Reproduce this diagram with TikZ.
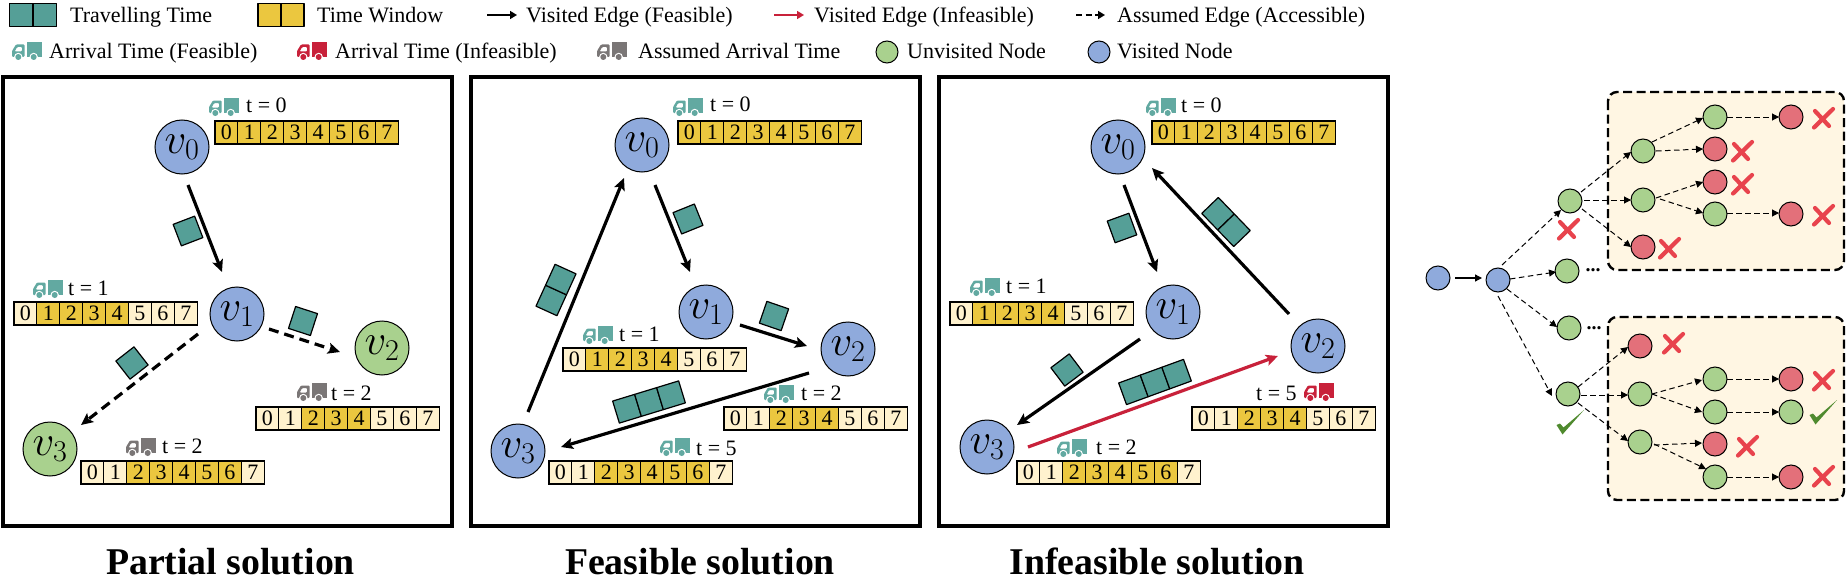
\documentclass[tikz,border=0pt]{standalone}
\usepackage{fix-cm}
\usepackage{fontspec}
\setmainfont{Liberation Serif}
\usetikzlibrary{arrows.meta}
\definecolor{tealblk}{HTML}{559F97}
\definecolor{tealtrk}{HTML}{62A9A1}
\definecolor{yellowc}{HTML}{EBC73F}
\definecolor{lightc}{HTML}{FFF2CE}
\definecolor{bluen}{HTML}{8FAADC}
\definecolor{greenn}{HTML}{A9D18E}
\definecolor{redn}{HTML}{E3707A}
\definecolor{rede}{HTML}{C8213A}
\definecolor{grayt}{HTML}{7A7676}
\definecolor{crossc}{HTML}{E8434D}
\definecolor{checkc}{HTML}{4F8A2E}
\definecolor{boxc}{HTML}{FFF6E3}
\tikzset{
  lbl/.style={anchor=base west,inner sep=0pt,font=\fontsize{22}{24}\selectfont},
  captext/.style={anchor=base,inner sep=0pt,font=\fontsize{37.8}{42}\selectfont\bfseries},
  panelbox/.style={draw=black,line width=3.6pt,fill=white},
  bignode/.style={circle,draw=black,line width=1pt,minimum size=54pt,inner sep=0pt,font=\fontsize{43}{43}\selectfont},
  visitb/.style={bignode,fill=bluen},
  unvisb/.style={bignode,fill=greenn},
  legn/.style={circle,draw=black,line width=1pt,minimum size=22pt,inner sep=0pt},
  tn/.style={circle,draw=black,line width=1pt,minimum size=24pt,inner sep=0pt},
  tg/.style={tn,fill=greenn},
  tb/.style={tn,fill=bluen},
  tr/.style={tn,fill=redn},
  solid edge/.style={draw=black,line width=3.2pt,-{Stealth[length=12pt,width=11pt,inset=2.5pt]}},
  red edge/.style={draw=rede,line width=3.2pt,-{Stealth[length=12pt,width=11pt,inset=2.5pt]}},
  dash edge/.style={draw=black,line width=3.2pt,dash pattern=on 10pt off 6pt,-{Stealth[length=12pt,width=11pt,inset=2.5pt]}},
  tree edge/.style={draw=black,line width=1pt,dash pattern=on 5.5pt off 3.5pt,-{Triangle[length=7pt,width=7pt]}},
  tree solid/.style={draw=black,line width=1.2pt,-{Triangle[length=7pt,width=7pt]}},
  leg solid/.style={draw=black,line width=1.6pt,-{Triangle[length=7pt,width=8pt]}},
  leg red/.style={draw=rede,line width=1.6pt,-{Triangle[length=7pt,width=8pt]}},
  leg dash/.style={draw=black,line width=1.6pt,dash pattern=on 6pt off 3.5pt,-{Triangle[length=7pt,width=8pt]}},
  dbox/.style={draw=black,line width=2.4pt,dash pattern=on 9pt off 4.5pt,fill=boxc,rounded corners=9pt},
  cellnode/.style={draw=black,line width=1.1pt,minimum width=22.9pt,minimum height=23pt,inner sep=0pt,font=\fontsize{22}{24}\selectfont},
  crossmark/.style={draw=crossc,line width=4.2pt,line cap=round},
  dotstext/.style={inner sep=0pt,font=\fontsize{20}{20}\selectfont\bfseries}
}
% strip: name, x, y (top-left), first and last highlighted cell
\newcommand{\tstrip}[5]{%
  \foreach \i in {0,...,7}{%
    \pgfmathtruncatemacro{\hiflag}{(\i>=#4)&&(\i<=#5)?1:0}%
    \ifnum\hiflag=1\def\cellcol{yellowc}\else\def\cellcol{lightc}\fi
    \node[cellnode,fill=\cellcol] (#1-\i) at ({#2+\i*22.9+11.45},{#3+11.5}) {\i};
  }%
}
% truck: x, y (top-left), colour
\newcommand{\truck}[3]{%
  \begin{scope}[shift={(#1,#2)}]
    \fill[#3] (15,0) rectangle (30,15);
    \fill[#3,even odd rule,rounded corners=1pt] (0,15) -- (0,9) -- (4,2.5) -- (12.5,2.5) -- (12.5,15) -- cycle
       (2.6,9.5) -- (5.2,5) -- (10,5) -- (10,9.5) -- cycle;
    \fill[white] (6.3,15) circle (4.2) (21.7,15) circle (4.2);
    \fill[#3] (6.3,15) circle (3) (21.7,15) circle (3);
  \end{scope}%
}
% teal/yellow block: centre x, y, cells, angle, fill, cell size
\newcommand{\tblock}[6]{%
  \begin{scope}[shift={(#1,#2)},rotate=#4]
    \foreach \k in {1,...,#3}{%
      \draw[fill=#5,line width=1.2pt,line join=round] ({(\k-1-#3/2)*#6},{-#6/2}) rectangle ({(\k-#3/2)*#6},{#6/2});
    }
  \end{scope}%
}
\newcommand{\redx}[2]{%
  \begin{scope}[shift={(#1,#2)}]
    \draw[crossmark] (-9,9.5) -- (10,-9);
    \draw[crossmark] (-8,-7) -- (6,8);
  \end{scope}%
}
\newcommand{\grncheck}[2]{%
  \begin{scope}[shift={(#1,#2)}]
    \fill[checkc] (-13.5,3) -- (-10,1.5) -- (-6.5,5.5) -- (14,-12) -- (-7.5,12.5) -- cycle;
  \end{scope}%
}
\begin{document}
\begin{tikzpicture}[x=1pt,y=-1pt]
\useasboundingbox (0,0) rectangle (1848,578);
% legend
\tblock{33}{15}{2}{0}{tealblk}{23.5}
\node[lbl] (l1) at (70,23) {Travelling Time};
\tblock{281}{15}{2}{0}{yellowc}{23}
\node[lbl] (l2) at (317,23) {Time Window};
\coordinate (la1) at (487,15); \coordinate (la2) at (517,15);
\draw[leg solid] (la1) -- (la2);
\node[lbl] (l3) at (526,23) {Visited Edge (Feasible)};
\coordinate (lb1) at (774,15); \coordinate (lb2) at (804,15);
\draw[leg red] (lb1) -- (lb2);
\node[lbl] (l4) at (814,23) {Visited Edge (Infeasible)};
\coordinate (lc1) at (1076,15); \coordinate (lc2) at (1105,15);
\draw[leg dash] (lc1) -- (lc2);
\node[lbl] (l5) at (1117,23) {Assumed Edge (Accessible)};
\truck{12}{42}{tealtrk}
\node[lbl] (l6) at (49,59) {Arrival Time (Feasible)};
\truck{297}{42}{rede}
\node[lbl] (l7) at (335,59) {Arrival Time (Infeasible)};
\truck{597}{42}{grayt}
\node[lbl] (l8) at (638,59) {Assumed Arrival Time};
\node[legn,fill=greenn] (l9) at (887,52) {};
\node[lbl] (l10) at (907,59) {Unvisited Node};
\node[legn,fill=bluen] (l11) at (1099,52) {};
\node[lbl] (l12) at (1117,59) {Visited Node};
% panels
\draw[panelbox] (3,77) rectangle (452,526);
\draw[panelbox] (471,77) rectangle (920,526);
\draw[panelbox] (939,77) rectangle (1388,526);
\node[captext] (cap1) at (230.5,574) {Partial solution};
\node[captext] (cap2) at (700,574) {Feasible solution};
\node[captext] (cap3) at (1157,574) {Infeasible solution};
% panel 1
\node[visitb] (a0) at (182,147) {$v_0$};
\node[visitb] (a1) at (237,314) {$v_1$};
\node[unvisb] (a2) at (382,348) {$v_2$};
\node[unvisb] (a3) at (50,449) {$v_3$};
\draw[solid edge] ([shift={(6,38)}]a0.center) -- ([shift={(-15,-42)}]a1.center);
\draw[dash edge] ([shift={(32,15)}]a1.center) -- ([shift={(-42,4)}]a2.center);
\draw[dash edge] ([shift={(-39,20)}]a1.center) -- ([shift={(31,-24)}]a3.center);
\tblock{188}{231}{1}{21}{tealblk}{23}
\tblock{303}{321}{1}{-18}{tealblk}{23}
\tblock{132}{363}{1}{38}{tealblk}{23}
\tstrip{as0}{215}{121}{0}{7}
\tstrip{as1}{14}{302}{1}{4}
\tstrip{as2}{256}{407}{2}{4}
\tstrip{as3}{81}{461}{2}{6}
\truck{209}{98}{tealtrk}
\node[lbl] (at0) at (246,113) {t = 0};
\truck{33}{280}{tealtrk}
\node[lbl] (at1) at (68,295) {t = 1};
\truck{297}{383}{grayt}
\node[lbl] (at2) at (331,400) {t = 2};
\truck{126}{438}{grayt}
\node[lbl] (at3) at (162,453) {t = 2};
% panel 2
\node[visitb] (b0) at (642,145) {$v_0$};
\node[visitb] (b1) at (706,312) {$v_1$};
\node[visitb] (b2) at (848,349) {$v_2$};
\node[visitb] (b3) at (518,451) {$v_3$};
\draw[solid edge] ([shift={(13,40)}]b0.center) -- ([shift={(-16,-40)}]b1.center);
\draw[solid edge] ([shift={(34,13)}]b1.center) -- ([shift={(-41,-3)}]b2.center);
\draw[solid edge] ([shift={(-39,24)}]b2.center) -- ([shift={(43,-4)}]b3.center);
\draw[solid edge] ([shift={(10,-39)}]b3.center) -- ([shift={(-18,33)}]b0.center);
\tblock{688}{219}{1}{22}{tealblk}{23}
\tblock{774}{316}{1}{-19}{tealblk}{23}
\tblock{556}{290}{2}{65.5}{tealblk}{23}
\tblock{649}{402}{3}{17}{tealblk}{23}
\tstrip{bs0}{678}{121}{0}{7}
\tstrip{bs1}{563}{348}{1}{4}
\tstrip{bs2}{724}{407}{2}{4}
\tstrip{bs3}{549}{461}{2}{6}
\truck{673}{98}{tealtrk}
\node[lbl] (bt0) at (710,111) {t = 0};
\truck{583}{326}{tealtrk}
\node[lbl] (bt1) at (619,341) {t = 1};
\truck{764}{385}{tealtrk}
\node[lbl] (bt2) at (801,400) {t = 2};
\truck{660}{438}{tealtrk}
\node[lbl] (bt3) at (696,455) {t = 5};
% panel 3
\node[visitb] (c0) at (1118,147) {$v_0$};
\node[visitb] (c1) at (1173,312) {$v_1$};
\node[visitb] (c2) at (1318,346) {$v_2$};
\node[visitb] (c3) at (987,447) {$v_3$};
\draw[solid edge] ([shift={(6,38)}]c0.center) -- ([shift={(-16,-40)}]c1.center);
\draw[solid edge] ([shift={(-33,27)}]c1.center) -- ([shift={(30,-22)}]c3.center);
\draw[red edge] ([shift={(41,0)}]c3.center) -- ([shift={(-40,10)}]c2.center);
\draw[solid edge] ([shift={(-29,-32)}]c2.center) -- ([shift={(34,21)}]c0.center);
\tblock{1122}{228}{1}{20}{tealblk}{23}
\tblock{1067}{370}{1}{37}{tealblk}{23}
\tblock{1155}{382}{3}{20}{tealblk}{23}
\tblock{1226}{222}{2}{-46}{tealblk}{23}
\tstrip{cs0}{1152}{121}{0}{7}
\tstrip{cs1}{950}{302}{1}{4}
\tstrip{cs2}{1192}{407}{2}{4}
\tstrip{cs3}{1017}{461}{2}{6}
\truck{1146}{98}{tealtrk}
\node[lbl] (ct0) at (1181,113) {t = 0};
\truck{970}{278}{tealtrk}
\node[lbl] (ct1) at (1006,293) {t = 1};
\node[lbl] (ct2) at (1256,400) {t = 5};
\truck{1304}{383}{rede}
\truck{1057}{439}{tealtrk}
\node[lbl] (ct3) at (1096,454) {t = 2};
% tree: boxes
\draw[dbox] (1608,92) rectangle (1844,270);
\draw[dbox] (1608,317) rectangle (1844,500);
% tree: nodes
\node[tb] (t0) at (1438,278) {};
\node[tb] (t1) at (1498,280) {};
\node[tg] (u1) at (1570,201) {};
\node[tg] (u2) at (1567,271) {};
\node[tg] (u3) at (1569,328) {};
\node[tg] (u4) at (1568,394) {};
\node[tg] (d1) at (1643,151) {};
\node[tg] (d2) at (1643,200) {};
\node[tr] (d3) at (1643,247) {};
\node[tg] (e1) at (1715,117) {};
\node[tr] (e2) at (1715,149) {};
\node[tr] (e3) at (1715,182) {};
\node[tg] (e4) at (1715,214) {};
\node[tr] (f1) at (1791,117) {};
\node[tr] (f2) at (1791,214) {};
\node[tr] (g1) at (1640,346) {};
\node[tg] (g2) at (1640,394) {};
\node[tg] (g3) at (1640,442) {};
\node[tg] (h1) at (1715,379) {};
\node[tg] (h2) at (1715,412) {};
\node[tr] (h3) at (1715,444) {};
\node[tg] (h4) at (1715,477) {};
\node[tr] (i1) at (1791,379) {};
\node[tg] (i2) at (1791,412) {};
\node[tr] (i3) at (1791,477) {};
% tree: edges
\draw[tree solid] ([shift={(17,0)}]t0.center) -- ([shift={(-16,-2)}]t1.center);
\draw[tree edge] ([shift={(4,-15)}]t1.center) -- ([shift={(-9,9)}]u1.center);
\draw[tree edge] ([shift={(12,-1)}]t1.center) -- ([shift={(-11,1)}]u2.center);
\draw[tree edge] ([shift={(9,9)}]t1.center) -- ([shift={(-12,-1)}]u3.center);
\draw[tree edge] ([shift={(0,16)}]t1.center) -- ([shift={(-16,2)}]u4.center);
\draw[tree edge] ([shift={(11,-9)}]u1.center) -- ([shift={(-12,1)}]d1.center);
\draw[tree edge] ([shift={(14,-1)}]u1.center) -- ([shift={(-12,0)}]d2.center);
\draw[tree edge] ([shift={(12,8)}]u1.center) -- ([shift={(-12,0)}]d3.center);
\draw[tree edge] ([shift={(9,-9)}]d1.center) -- ([shift={(-12,1)}]e1.center);
\draw[tree edge] ([shift={(13,0)}]d1.center) -- ([shift={(-12,0)}]e2.center);
\draw[tree edge] ([shift={(13,-2)}]d2.center) -- ([shift={(-12,0)}]e3.center);
\draw[tree edge] ([shift={(17,-1)}]d2.center) -- ([shift={(-12,-1)}]e4.center);
\draw[tree edge] ([shift={(12,0)}]e1.center) -- ([shift={(-12,0)}]f1.center);
\draw[tree edge] ([shift={(12,-1)}]e4.center) -- ([shift={(-12,-1)}]f2.center);
\draw[tree edge] ([shift={(10,-7)}]u4.center) -- ([shift={(-12,1)}]g1.center);
\draw[tree edge] ([shift={(13,1)}]u4.center) -- ([shift={(-12,1)}]g2.center);
\draw[tree edge] ([shift={(10,9)}]u4.center) -- ([shift={(-12,-1)}]g3.center);
\draw[tree edge] ([shift={(12,0)}]g2.center) -- ([shift={(-13,1)}]h1.center);
\draw[tree edge] ([shift={(12,0)}]g2.center) -- ([shift={(-13,0)}]h2.center);
\draw[tree edge] ([shift={(14,3)}]g3.center) -- ([shift={(-13,-1)}]h3.center);
\draw[tree edge] ([shift={(14,2)}]g3.center) -- ([shift={(-9,-8)}]h4.center);
\draw[tree edge] ([shift={(12,0)}]h1.center) -- ([shift={(-12,0)}]i1.center);
\draw[tree edge] ([shift={(12,0)}]h2.center) -- ([shift={(-12,0)}]i2.center);
\draw[tree edge] ([shift={(12,0)}]h4.center) -- ([shift={(-12,0)}]i3.center);
\node[dotstext] (dd1) at (1593,270) {...};
\node[dotstext] (dd2) at (1594,328) {...};
% marks
\redx{1568}{229}
\redx{1669}{248}
\redx{1742}{151}
\redx{1742}{184}
\redx{1823}{118}
\redx{1823}{215}
\redx{1673}{343}
\redx{1823}{380}
\redx{1747}{446}
\redx{1823}{476}
\grncheck{1570}{422}
\grncheck{1823}{412}
\end{tikzpicture}
\end{document}
